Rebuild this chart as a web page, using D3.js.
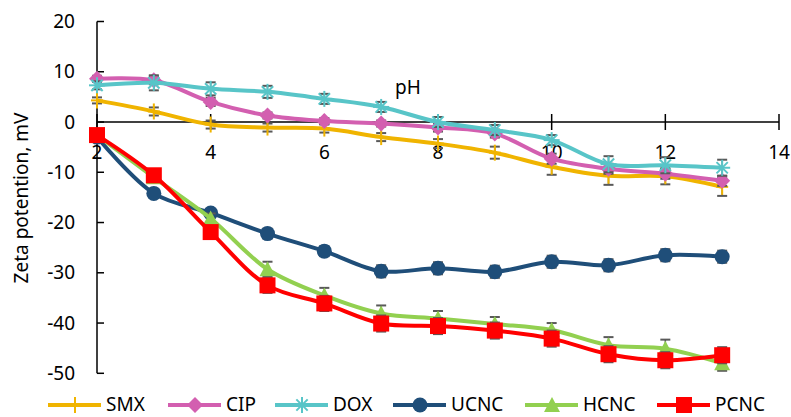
<!DOCTYPE html>
<html><head><meta charset="utf-8">
<script src="https://cdn.jsdelivr.net/npm/d3@7"></script>
<style>body{margin:0;background:#fff}svg{display:block}text{font-family:"Noto Sans",sans-serif;fill:#000}</style>
</head><body><svg id="c" width="791" height="417"></svg>
<script>
const pH = [2,3,4,5,6,7,8,9,10,11,12,13];
const xTicks = [2,4,6,8,10,12,14];
const yTicks = [20,10,0,-10,-20,-30,-40,-50];
const seriesNames = ["SMX","CIP","DOX","UCNC","HCNC","PCNC"];
const SMX  = [4.3, 2.1, -0.5, -1.1, -1.3, -3.0, -4.3, -6.1, -8.9, -10.7, -10.8, -12.9];
const CIP  = [8.6, 8.3, 4.0, 1.3, 0.2, -0.3, -1.1, -2.3, -7.3, -9.3, -10.3, -11.7];
const DOX  = [7.3, 7.8, 6.6, 6.0, 4.6, 3.0, 0.0, -1.6, -3.6, -8.4, -8.6, -9.1];
const UCNC = [-3.0, -14.2, -18.1, -22.2, -25.7, -29.7, -29.1, -29.8, -27.8, -28.5, -26.5, -26.8];
const HCNC = [-2.6, -11.0, -19.2, -29.3, -34.5, -38.1, -39.1, -40.2, -41.4, -44.4, -45.1, -48.0];
const PCNC = [-2.6, -10.6, -21.9, -32.5, -36.1, -40.1, -40.6, -41.5, -43.1, -46.2, -47.4, -46.4];
const SMXerr  = [0.6, 0.8, 0.8, 0.8, 0.8, 0.8, 0.9, 1.2, 1.6, 1.8, 1.6, 1.8];
const CIPerr  = [0.6, 0.8, 0.8, 0.6, 0.6, 0.6, 0.8, 0.8, 1.0, 1.0, 1.0, 1.0];
const DOXerr  = [0.8, 1.5, 1.3, 1.2, 1.0, 1.0, 1.0, 1.0, 1.0, 1.6, 1.6, 1.6];
const UCNCerr = [0.8, 0.8, 0.8, 1.0, 1.0, 1.2, 1.2, 1.2, 1.2, 1.2, 1.2, 1.2];
const HCNCerr = [0.8, 0.8, 1.0, 1.5, 1.5, 1.6, 1.5, 1.4, 1.4, 1.6, 1.8, 1.5];
const PCNCerr = [0.8, 0.8, 1.2, 1.5, 1.5, 1.6, 1.6, 1.6, 1.6, 1.6, 1.6, 1.6];

const colors = {SMX:"#f0b400", CIP:"#d35fb0", DOX:"#58c5c8", UCNC:"#1f4e79", HCNC:"#92d050", PCNC:"#ff0000"};
const values = {SMX, CIP, DOX, UCNC, HCNC, PCNC};
const errs = {SMX:SMXerr, CIP:CIPerr, DOX:DOXerr, UCNC:UCNCerr, HCNC:HCNCerr, PCNC:PCNCerr};
const markers = {SMX:"plus", CIP:"diamond", DOX:"star", UCNC:"circle", HCNC:"triangle", PCNC:"square"};

const FS = "19px";
const svg = d3.select("#c");
const x = d3.scaleLinear().domain([2,14]).range([97,779]);
const y = d3.scaleLinear().domain([-50,20]).range([373.3,21.5]);

// y axis
const yAxis = svg.append("g").attr("transform","translate(97,0)");
yAxis.append("line").attr("x1",0).attr("x2",0).attr("y1",y(20)).attr("y2",y(-50)).attr("stroke","#000").attr("stroke-width",1.5);
yTicks.forEach(t=>{
  yAxis.append("line").attr("x1",0).attr("x2",7).attr("y1",y(t)).attr("y2",y(t)).attr("stroke","#000").attr("stroke-width",1.5);
  svg.append("text").attr("x",75).attr("y",y(t)).attr("dy","0.35em").attr("text-anchor","end").style("font-size",FS).text(t);
});
// x axis at y=0
svg.append("line").attr("x1",x(2)).attr("x2",x(14)).attr("y1",y(0)).attr("y2",y(0)).attr("stroke","#000").attr("stroke-width",1.5);
xTicks.forEach(t=>{
  svg.append("line").attr("x1",x(t)).attr("x2",x(t)).attr("y1",y(0)-8).attr("y2",y(0)+8).attr("stroke","#000").attr("stroke-width",1.5);
  svg.append("text").attr("x",x(t)).attr("y",152).attr("dy","0.35em").attr("text-anchor","middle").style("font-size",FS).text(t);
});
svg.append("text").attr("x",408).attr("y",87).attr("dy","0.35em").attr("text-anchor","middle").style("font-size",FS).text("pH");
svg.append("text").attr("transform","translate(21,198) rotate(-90)").attr("dy","0.35em").attr("text-anchor","middle").style("font-size",FS).text("Zeta potention, mV");

function drawMarker(g, type, cx, cy, col, s){
  s = s||1;
  if(type==="plus"){
    g.append("line").attr("x1",cx-6*s).attr("x2",cx+6*s).attr("y1",cy).attr("y2",cy).attr("stroke",col).attr("stroke-width",2);
    g.append("line").attr("x1",cx).attr("x2",cx).attr("y1",cy-8*s).attr("y2",cy+8*s).attr("stroke",col).attr("stroke-width",2);
  } else if(type==="diamond"){
    g.append("path").attr("d",`M${cx},${cy-8*s}L${cx+8*s},${cy}L${cx},${cy+8*s}L${cx-8*s},${cy}Z`).attr("fill",col);
  } else if(type==="star"){
    const r=8*s;
    [0,45,90,135].forEach(a=>{const ra=a*Math.PI/180;
      g.append("line").attr("x1",cx-r*Math.cos(ra)).attr("x2",cx+r*Math.cos(ra)).attr("y1",cy-r*Math.sin(ra)).attr("y2",cy+r*Math.sin(ra)).attr("stroke",col).attr("stroke-width",2);});
  } else if(type==="circle"){
    g.append("circle").attr("cx",cx).attr("cy",cy).attr("r",7.5*s).attr("fill",col);
  } else if(type==="triangle"){
    g.append("path").attr("d",`M${cx},${cy-8*s}L${cx+8*s},${cy+7*s}L${cx-8*s},${cy+7*s}Z`).attr("fill",col);
  } else if(type==="square"){
    g.append("rect").attr("x",cx-8*s).attr("y",cy-8*s).attr("width",16*s).attr("height",16*s).attr("fill",col);
  }
}

const line = d3.line().x((d,i)=>x(pH[i])).y(d=>y(d)).curve(d3.curveCatmullRom.alpha(0.5));
const order = ["SMX","CIP","DOX","UCNC","HCNC","PCNC"];
order.forEach(name=>{
  const g = svg.append("g");
  const v = values[name], e = errs[name], col = colors[name];
  v.forEach((d,i)=>{
    const cx = x(pH[i]);
    g.append("line").attr("x1",cx).attr("x2",cx).attr("y1",y(d+e[i])).attr("y2",y(d-e[i])).attr("stroke","#595959").attr("stroke-width",1.5);
    [d+e[i], d-e[i]].forEach(t=>g.append("line").attr("x1",cx-5).attr("x2",cx+5).attr("y1",y(t)).attr("y2",y(t)).attr("stroke","#595959").attr("stroke-width",2));
  });
  g.append("path").datum(v).attr("d",line).attr("fill","none").attr("stroke",col).attr("stroke-width",4);
  v.forEach((d,i)=>drawMarker(g, markers[name], x(pH[i]), y(d), col));
});

// legend
const legX = [48,168,275,393,525,657];
const ly = 404;
order.forEach((name,i)=>{
  const g = svg.append("g");
  const x0 = legX[i];
  g.append("line").attr("x1",x0).attr("x2",x0+53).attr("y1",ly+1).attr("y2",ly+1).attr("stroke",colors[name]).attr("stroke-width",4);
  drawMarker(g, markers[name], x0+27, ly+1, colors[name]);
  g.append("text").attr("x",x0+58).attr("y",ly).attr("dy","0.35em").style("font-size",FS).text(name);
});
</script></body></html>
